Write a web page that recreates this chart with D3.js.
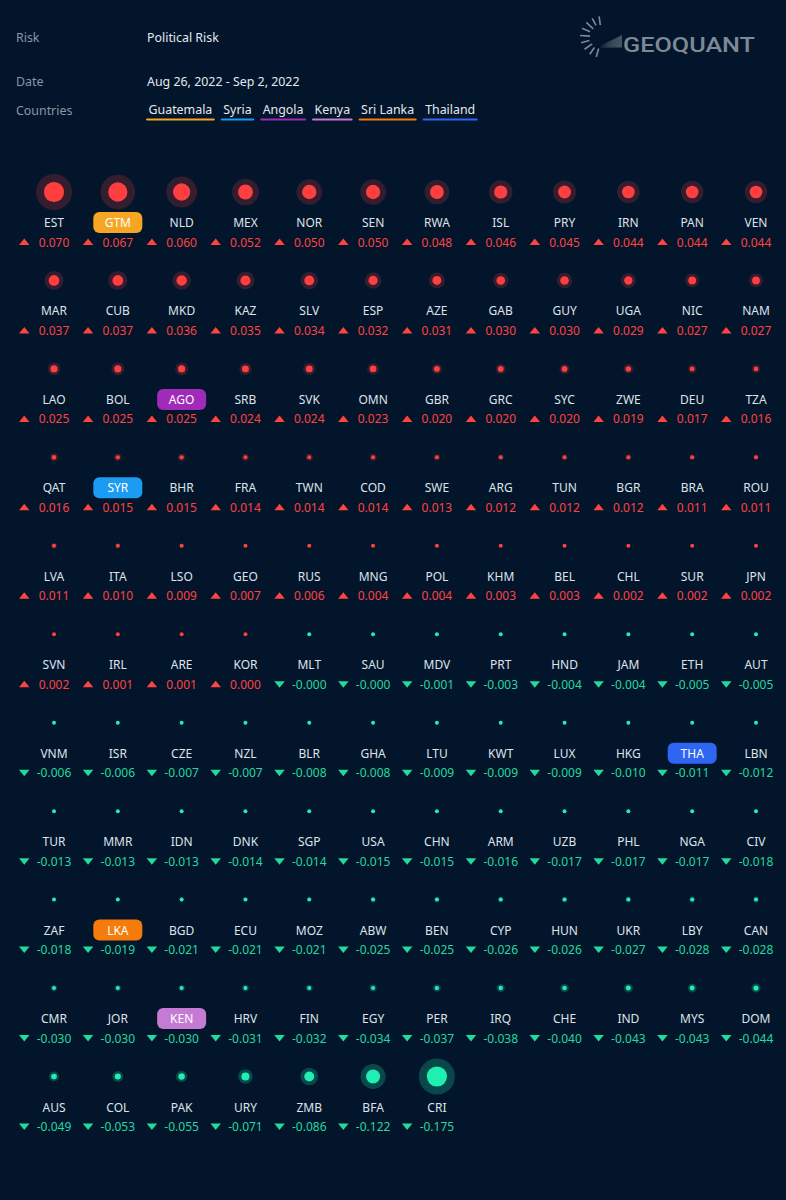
<!DOCTYPE html>
<html><head><meta charset="utf-8">
<script src="https://cdn.jsdelivr.net/npm/d3@7"></script>
<style>
html,body{margin:0;padding:0;background:#02152b;}
svg{display:block;}
</style></head>
<body>
<script>
// ---- data ----
const codes = [
 "EST","GTM","NLD","MEX","NOR","SEN","RWA","ISL","PRY","IRN","PAN","VEN",
 "MAR","CUB","MKD","KAZ","SLV","ESP","AZE","GAB","GUY","UGA","NIC","NAM",
 "LAO","BOL","AGO","SRB","SVK","OMN","GBR","GRC","SYC","ZWE","DEU","TZA",
 "QAT","SYR","BHR","FRA","TWN","COD","SWE","ARG","TUN","BGR","BRA","ROU",
 "LVA","ITA","LSO","GEO","RUS","MNG","POL","KHM","BEL","CHL","SUR","JPN",
 "SVN","IRL","ARE","KOR","MLT","SAU","MDV","PRT","HND","JAM","ETH","AUT",
 "VNM","ISR","CZE","NZL","BLR","GHA","LTU","KWT","LUX","HKG","THA","LBN",
 "TUR","MMR","IDN","DNK","SGP","USA","CHN","ARM","UZB","PHL","NGA","CIV",
 "ZAF","LKA","BGD","ECU","MOZ","ABW","BEN","CYP","HUN","UKR","LBY","CAN",
 "CMR","JOR","KEN","HRV","FIN","EGY","PER","IRQ","CHE","IND","MYS","DOM",
 "AUS","COL","PAK","URY","ZMB","BFA","CRI"
];
const changes = [
 0.070,0.067,0.060,0.052,0.050,0.050,0.048,0.046,0.045,0.044,0.044,0.044,
 0.037,0.037,0.036,0.035,0.034,0.032,0.031,0.030,0.030,0.029,0.027,0.027,
 0.025,0.025,0.025,0.024,0.024,0.023,0.020,0.020,0.020,0.019,0.017,0.016,
 0.016,0.015,0.015,0.014,0.014,0.014,0.013,0.012,0.012,0.012,0.011,0.011,
 0.011,0.010,0.009,0.007,0.006,0.004,0.004,0.003,0.003,0.002,0.002,0.002,
 0.002,0.001,0.001,0.0001,-0.0001,-0.0001,-0.001,-0.003,-0.004,-0.004,-0.005,-0.005,
 -0.006,-0.006,-0.007,-0.007,-0.008,-0.008,-0.009,-0.009,-0.009,-0.010,-0.011,-0.012,
 -0.013,-0.013,-0.013,-0.014,-0.014,-0.015,-0.015,-0.016,-0.017,-0.017,-0.017,-0.018,
 -0.018,-0.019,-0.021,-0.021,-0.021,-0.025,-0.025,-0.026,-0.026,-0.027,-0.028,-0.028,
 -0.030,-0.030,-0.030,-0.031,-0.032,-0.034,-0.037,-0.038,-0.040,-0.043,-0.043,-0.044,
 -0.049,-0.053,-0.055,-0.071,-0.086,-0.122,-0.175
];
const highlightCodes = ["GTM","SYR","AGO","KEN","LKA","THA"];
const highlightNames = ["Guatemala","Syria","Angola","Kenya","Sri Lanka","Thailand"];
const highlightColors = ["#f6a623","#1b9cf2","#a02bb8","#c57bd4","#f57c0a","#2e66f3"];
const headerLabels = ["Risk","Date","Countries"];
const headerValues = ["Political Risk","Aug 26, 2022 - Sep 2, 2022"];

// ---- setup ----
const W = 786, H = 1200, COLS = 12;
const FONT = "'Noto Sans','Open Sans',sans-serif";
const svg = d3.select("body").append("svg").attr("width", W).attr("height", H);
svg.append("rect").attr("width", W).attr("height", H).attr("fill", "#02152b");

const RED = "#ff3f3f", GREEN = "#1ff0b2";
const RED_TXT = "#ff4242", GREEN_TXT = "#22d99f";

// header
const hy = [37, 81, 110];
svg.selectAll("text.hl").data(headerLabels).join("text").attr("class","hl")
  .attr("x", 16).attr("y", (d,i)=>hy[i]).attr("dominant-baseline","central")
  .attr("font-family", FONT).attr("font-size", 12.4).attr("fill", "#8c96a4").text(d=>d);
svg.selectAll("text.hv").data(headerValues).join("text").attr("class","hv")
  .attr("x", 147).attr("y", (d,i)=>hy[i]).attr("dominant-baseline","central")
  .attr("font-family", FONT).attr("font-size", 12.4).attr("fill", "#e4e8ee").text(d=>d);

// legend chips
let lx = 146;
highlightNames.forEach((name, i) => {
  const t = svg.append("text").attr("x", lx + 2.5).attr("y", 109).attr("dominant-baseline","central")
    .attr("font-family", FONT).attr("font-size", 12.4).attr("fill", "#e4e8ee").text(name);
  const w = t.node().getComputedTextLength();
  svg.append("line").attr("x1", lx + 1).attr("x2", lx + w + 4).attr("y1", 119.5).attr("y2", 119.5)
    .attr("stroke", highlightColors[i]).attr("stroke-width", 2).attr("stroke-linecap","round");
  lx += w + 5 + 6;
});

// logo
const logo = svg.append("g").attr("transform","translate(602,37)");
d3.range(9).forEach(k => {
  const a = (262 - k * 19.5) * Math.PI / 180;
  const r0 = 12 + (k%2)*1, r1 = 22 - Math.abs(k-4)*0.3;
  logo.append("line")
    .attr("x1", r0*Math.cos(a)).attr("y1", r0*Math.sin(a))
    .attr("x2", r1*Math.cos(a)).attr("y2", r1*Math.sin(a))
    .attr("stroke", "#7f8995").attr("stroke-width", 1.6);
});
logo.append("path").attr("d","M-5,10.5 L20,-2 L20,10.5 Z").attr("fill","#7f8995").attr("opacity",0.75);
d3.range(12).forEach(k => {
  logo.append("line").attr("x1", -5).attr("y1", 10.5)
    .attr("x2", 20).attr("y2", -2 + k*1.1)
    .attr("stroke", "#02152b").attr("stroke-width", 0.5).attr("opacity", 0.6);
});
svg.append("text").attr("x", 623).attr("y", 45).attr("dominant-baseline","central")
  .attr("font-family", "Roboto, 'DejaVu Sans', sans-serif").attr("font-weight", 500).attr("font-size", 20)
  .attr("textLength", 132).attr("lengthAdjust","spacingAndGlyphs")
  .attr("fill", "#7f8995").text("GEOQUANT");

// ---- grid ----
const data = codes.map((c, i) => ({code: c, v: changes[i], col: i % COLS, row: Math.floor(i / COLS)}));
const nRows = Math.ceil(codes.length / COLS);
const x = d3.scalePoint().domain(d3.range(COLS)).range([54, 756]);
const y = d3.scalePoint().domain(d3.range(nRows)).range([192, 1076.5]);
const maxPos = d3.max(changes.filter(v => v > 0));
const maxNeg = d3.max(changes.filter(v => v < 0).map(Math.abs));
const rPos = d3.scaleLinear().domain([0, maxPos]).range([0, 18]);
const rNeg = d3.scaleLinear().domain([0, maxNeg]).range([0, 18]);
const outerR = d => (d.v >= 0 ? rPos : rNeg)(Math.abs(d.v));

const cells = svg.selectAll("g.cell").data(data).join("g").attr("class","cell")
  .attr("transform", d => `translate(${x(d.col)},${y(d.row)})`);

cells.append("circle").attr("r", d => Math.max(0, outerR(d)))
  .attr("fill", d => d.v >= 0 ? RED : GREEN).attr("opacity", d => d.v >= 0 ? 0.2 : 0.24);
cells.append("circle").attr("r", d => Math.max(2, outerR(d) * 0.56))
  .attr("fill", d => d.v >= 0 ? RED : GREEN);

const hiIdx = d => highlightCodes.indexOf(d.code);
cells.filter(d => hiIdx(d) >= 0).append("rect")
  .attr("x", -24.5).attr("y", 20).attr("width", 49).attr("height", 21).attr("rx", 6)
  .attr("fill", d => highlightColors[hiIdx(d)]);
cells.append("text").attr("y", 30.5).attr("text-anchor","middle").attr("dominant-baseline","central")
  .attr("font-family", FONT).attr("font-size", 12)
  .attr("fill", d => hiIdx(d) >= 0 ? "#ffffff" : "#dfe3e9").text(d => d.code);

cells.append("path")
  .attr("d", d => d.v >= 0 ? "M-35,53 L-24.5,53 L-29.75,46.5 Z" : "M-35,47 L-24.5,47 L-29.75,53.5 Z")
  .attr("fill", d => d.v >= 0 ? RED_TXT : GREEN_TXT);
cells.append("text").attr("y", 50).attr("text-anchor","middle").attr("dominant-baseline","central")
  .attr("font-family", FONT).attr("font-size", 12)
  .attr("fill", d => d.v >= 0 ? RED_TXT : GREEN_TXT)
  .text(d => (d.v < 0 ? "-" : "") + Math.abs(d.v).toFixed(3));
</script>
</body></html>
